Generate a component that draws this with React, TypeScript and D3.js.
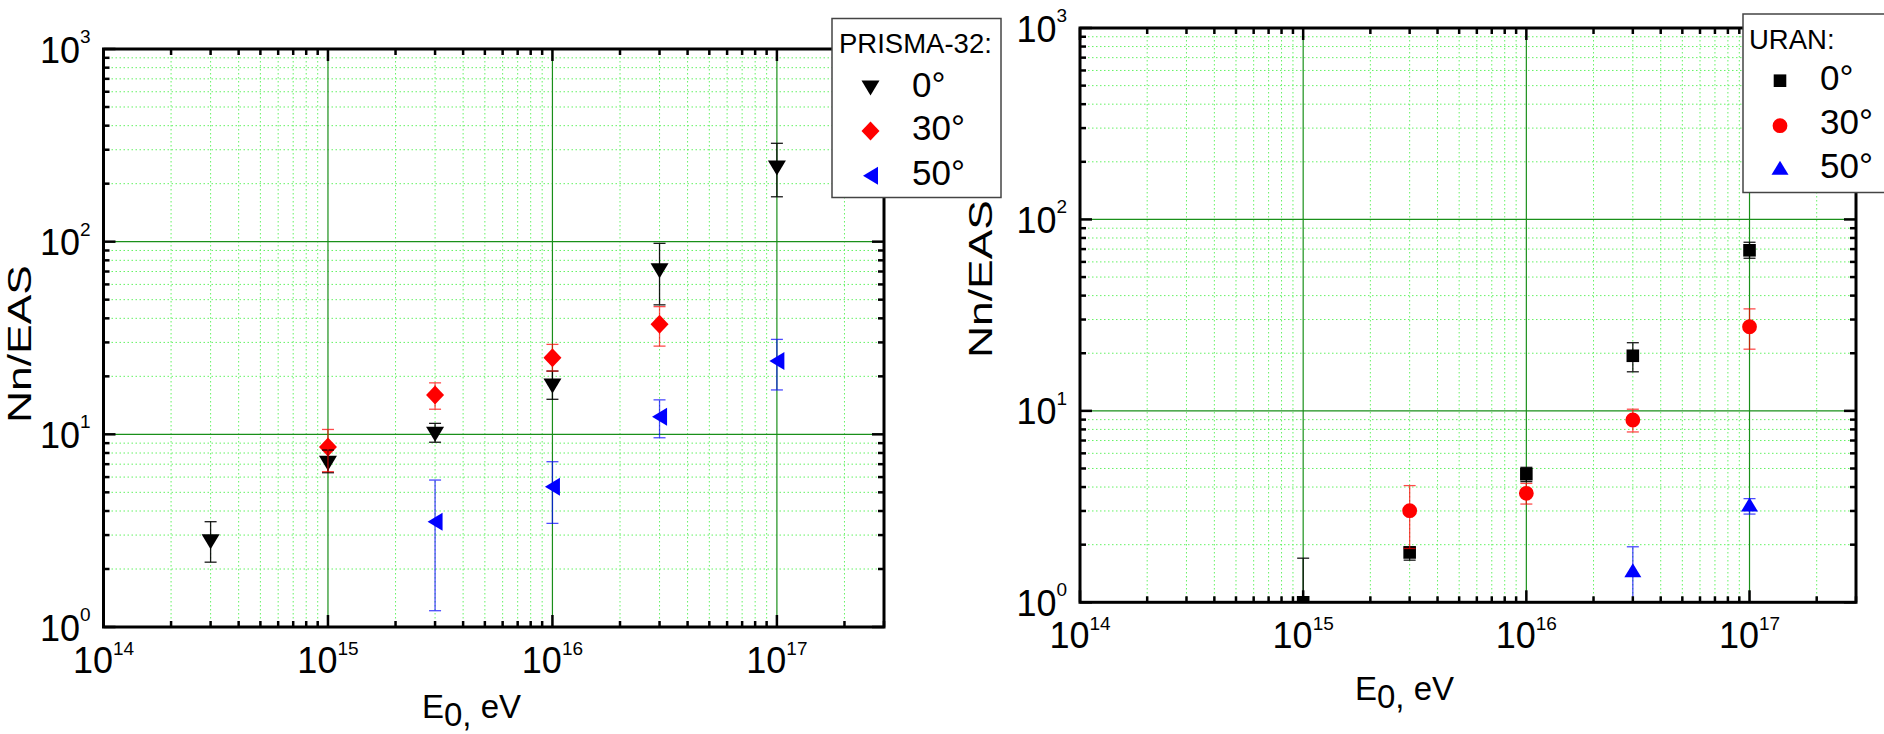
import React from "react";
import * as d3 from "d3";

// ---------- DATA ----------
const xTickExponents = [14, 15, 16, 17];
const yTickExponents = [0, 1, 2, 3];
const xDomain: [number, number] = [1e14, 3e17];
const yDomain: [number, number] = [1, 1000];

// PRISMA-32
const prisma0E = [3e14, 1e15, 3e15, 1e16, 3e16, 1e17];
const prisma0 = [2.77, 7.07, 10.0, 17.8, 70.6, 241];
const prisma0Lo = [2.17, 6.32, 9.1, 15.2, 47, 171];
const prisma0Hi = [3.52, 8.29, 11.4, 21.3, 98, 324];

const prisma30E = [1e15, 3e15, 1e16, 3e16];
const prisma30 = [8.6, 16.0, 25.0, 37.3];
const prisma30Lo = [6.4, 13.5, 21.3, 28.7];
const prisma30Hi = [10.6, 18.5, 29.3, 46];

const prisma50E = [3e15, 1e16, 3e16, 1e17];
const prisma50 = [3.52, 5.35, 12.35, 24.0];
const prisma50Lo = [1.215, 3.45, 9.6, 17.0];
const prisma50Hi = [5.79, 7.21, 15.1, 31.1];

// URAN
const uran0E = [1e15, 3e15, 1e16, 3e16, 1e17];
const uran0 = [1.0, 1.82, 4.67, 19.4, 69.0];
const uran0Lo = [0.6, 1.66, 4.27, 16.0, 62.7];
const uran0Hi = [1.7, 1.95, 5.07, 22.7, 76];

const uran30E = [3e15, 1e16, 3e16, 1e17];
const uran30 = [3.01, 3.71, 8.96, 27.5];
const uran30Lo = [1.91, 3.26, 7.76, 21.0];
const uran30Hi = [4.07, 4.18, 10.2, 34.1];

const uran50E = [3e16, 1e17];
const uran50 = [1.47, 3.24];
const uran50Lo = [0.8, 2.89];
const uran50Hi = [1.95, 3.48];

const seriesLabels = ["0°", "30°", "50°"];

// ---------- STYLE ----------
const FONT = "'Liberation Sans', Arial, Helvetica, sans-serif";
const BLACK = "#000000";
const RED = "#ff0000";
const BLUE = "#0000ff";

type Shape = "down" | "diamond" | "left" | "square" | "circle" | "up";

function shapePath(kind: Shape): string {
  switch (kind) {
    case "down":
      return "M-9,-7.5L9,-7.5L0,7.5Z";
    case "diamond":
      return "M0,-9.5L9,0L0,9.5L-9,0Z";
    case "left":
      return "M-7.5,0L7.5,-9L7.5,9Z";
    case "square":
      return "M-6.3,-6.3L6.3,-6.3L6.3,6.3L-6.3,6.3Z";
    case "up":
      return "M-8.5,7L8.5,7L0,-7Z";
    case "circle":
    default:
      return d3.symbol(d3.symbolCircle, Math.PI * 7.4 * 7.4)() || "";
  }
}

interface Series {
  color: string;
  shape: Shape;
  e: number[];
  v: number[];
  lo: number[];
  hi: number[];
}

interface PanelCfg {
  id: string;
  x0: number;
  x1: number;
  y0: number;
  y1: number;
  yTitle: { x: number; y: number; len: number };
  xTitle: { x: number; y: number };
  legend: {
    x: number;
    y: number;
    w: number;
    h: number;
    title: string;
    titleX: number;
    titleY: number;
    markerX: number;
    textX: number;
    rows: { my: number; ty: number }[];
  };
  series: Series[];
}

const panels: PanelCfg[] = [
  {
    id: "prisma",
    x0: 103.5,
    x1: 884,
    y0: 49,
    y1: 627,
    yTitle: { x: 31, y: 344, len: 158 },
    xTitle: { x: 422, y: 718 },
    legend: {
      x: 832,
      y: 18.5,
      w: 169,
      h: 179,
      title: "PRISMA-32:",
      titleX: 839,
      titleY: 53,
      markerX: 870.5,
      textX: 912,
      rows: [
        { my: 88, ty: 97 },
        { my: 131, ty: 140 },
        { my: 175.7, ty: 185 },
      ],
    },
    series: [
      { color: BLACK, shape: "down", e: prisma0E, v: prisma0, lo: prisma0Lo, hi: prisma0Hi },
      { color: RED, shape: "diamond", e: prisma30E, v: prisma30, lo: prisma30Lo, hi: prisma30Hi },
      { color: BLUE, shape: "left", e: prisma50E, v: prisma50, lo: prisma50Lo, hi: prisma50Hi },
    ],
  },
  {
    id: "uran",
    x0: 1080,
    x1: 1856,
    y0: 28,
    y1: 602.3,
    yTitle: { x: 991.5, y: 279, len: 158 },
    xTitle: { x: 1355, y: 700 },
    legend: {
      x: 1743,
      y: 14,
      w: 160,
      h: 178.5,
      title: "URAN:",
      titleX: 1749,
      titleY: 48.5,
      markerX: 1780,
      textX: 1820,
      rows: [
        { my: 80.7, ty: 90 },
        { my: 125.7, ty: 134.3 },
        { my: 167.7, ty: 178.3 },
      ],
    },
    series: [
      { color: BLACK, shape: "square", e: uran0E, v: uran0, lo: uran0Lo, hi: uran0Hi },
      { color: RED, shape: "circle", e: uran30E, v: uran30, lo: uran30Lo, hi: uran30Hi },
      { color: BLUE, shape: "up", e: uran50E, v: uran50, lo: uran50Lo, hi: uran50Hi },
    ],
  },
];

function isMajor(v: number) {
  const l = Math.log10(v);
  return Math.abs(l - Math.round(l)) < 1e-9;
}

function Panel({ cfg }: { cfg: PanelCfg }) {
  const x = d3.scaleLog().domain(xDomain).range([cfg.x0, cfg.x1]);
  const y = d3.scaleLog().domain(yDomain).range([cfg.y1, cfg.y0]);
  const xt = x.ticks();
  const yt = y.ticks();
  const clipId = `clip-${cfg.id}`;
  const L = cfg.legend;

  return (
    <g>
      <defs>
        <clipPath id={clipId}>
          <rect x={cfg.x0} y={cfg.y0} width={cfg.x1 - cfg.x0} height={cfg.y1 - cfg.y0} />
        </clipPath>
      </defs>

      {/* minor grid */}
      <g stroke="#3ff03f" strokeWidth={1} strokeDasharray="1.5 2.5" opacity={0.8}>
        {xt
          .filter((v) => !isMajor(v) && x(v) < cfg.x1 - 1)
          .map((v, i) => (
            <line key={`gx${i}`} x1={x(v)} x2={x(v)} y1={cfg.y0} y2={cfg.y1} />
          ))}
        {yt
          .filter((v) => !isMajor(v))
          .map((v, i) => (
            <line key={`gy${i}`} x1={cfg.x0} x2={cfg.x1} y1={y(v)} y2={y(v)} />
          ))}
      </g>
      {/* major grid */}
      <g stroke="#1a8f1a" strokeWidth={1.2}>
        {xt
          .filter((v) => isMajor(v) && x(v) > cfg.x0 + 1)
          .map((v, i) => (
            <line key={`Gx${i}`} x1={x(v)} x2={x(v)} y1={cfg.y0} y2={cfg.y1} />
          ))}
        {yt
          .filter((v) => isMajor(v) && y(v) > cfg.y0 + 1 && y(v) < cfg.y1 - 1)
          .map((v, i) => (
            <line key={`Gy${i}`} x1={cfg.x0} x2={cfg.x1} y1={y(v)} y2={y(v)} />
          ))}
      </g>

      {/* data */}
      <g clipPath={`url(#${clipId})`}>
        {cfg.series.map((s, si) => (
          <g key={`m${si}`} fill={s.color}>
            {s.e.map((e, i) => (
              <path key={i} d={shapePath(s.shape)} transform={`translate(${x(e)},${y(s.v[i])})`} />
            ))}
          </g>
        ))}
        {cfg.series.map((s, si) => (
          <g key={`e${si}`} stroke={s.color} strokeWidth={1.3} opacity={s.color === BLACK ? 0.9 : 0.7}>
            {s.e.map((e, i) => {
              const cx = x(e);
              const ylo = y(s.lo[i]);
              const yhi = y(s.hi[i]);
              return (
                <g key={i}>
                  <line x1={cx} x2={cx} y1={ylo} y2={yhi} />
                  <line x1={cx - 6} x2={cx + 6} y1={ylo} y2={ylo} />
                  <line x1={cx - 6} x2={cx + 6} y1={yhi} y2={yhi} />
                </g>
              );
            })}
          </g>
        ))}
      </g>

      {/* ticks */}
      <g stroke="#000" strokeWidth={2.5}>
        {xt.map((v, i) => {
          const len = isMajor(v) ? 12 : 6;
          const px = x(v);
          return (
            <g key={`tx${i}`}>
              <line x1={px} x2={px} y1={cfg.y1} y2={cfg.y1 - len} />
              <line x1={px} x2={px} y1={cfg.y0} y2={cfg.y0 + len} />
            </g>
          );
        })}
        {yt.map((v, i) => {
          const len = isMajor(v) ? 12 : 6;
          const py = y(v);
          return (
            <g key={`ty${i}`}>
              <line x1={cfg.x0} x2={cfg.x0 + len} y1={py} y2={py} />
              <line x1={cfg.x1} x2={cfg.x1 - len} y1={py} y2={py} />
            </g>
          );
        })}
      </g>
      {/* frame */}
      <rect
        x={cfg.x0}
        y={cfg.y0}
        width={cfg.x1 - cfg.x0}
        height={cfg.y1 - cfg.y0}
        fill="none"
        stroke="#000"
        strokeWidth={3}
      />

      {/* tick labels */}
      <g fontFamily={FONT} fill="#000">
        {xTickExponents.map((ex) => (
          <text key={`xl${ex}`} x={x(Math.pow(10, ex))} y={cfg.y1 + 46} fontSize={36} textAnchor="middle">
            <tspan>10</tspan>
            <tspan fontSize={19} dy={-18}>
              {ex}
            </tspan>
          </text>
        ))}
        {yTickExponents.map((ex) => (
          <text key={`yl${ex}`} x={cfg.x0 - 13} y={y(Math.pow(10, ex)) + 13.5} fontSize={36} textAnchor="end">
            <tspan>10</tspan>
            <tspan fontSize={19} dy={-19.5}>
              {ex}
            </tspan>
          </text>
        ))}
      </g>

      {/* axis titles */}
      <g fontFamily={FONT} fill="#000">
        <text
          transform={`translate(${cfg.yTitle.x},${cfg.yTitle.y}) rotate(-90)`}
          fontSize={33}
          textAnchor="middle"
          textLength={cfg.yTitle.len}
          lengthAdjust="spacingAndGlyphs"
        >
          Nn/EAS
        </text>
        <text x={cfg.xTitle.x} y={cfg.xTitle.y} fontSize={33}>
          <tspan>E</tspan>
          <tspan dy={8}>0,</tspan>
          <tspan dy={-8}> eV</tspan>
        </text>
      </g>

      {/* legend */}
      <g>
        <rect x={L.x} y={L.y} width={L.w} height={L.h} fill="#fff" stroke="#444" strokeWidth={1.5} />
        <text x={L.titleX} y={L.titleY} fontFamily={FONT} fontSize={27.5} fill="#000">
          {L.title}
        </text>
        {cfg.series.map((s, i) => (
          <g key={`lg${i}`}>
            <path d={shapePath(s.shape)} fill={s.color} transform={`translate(${L.markerX},${L.rows[i].my})`} />
            <text x={L.textX} y={L.rows[i].ty} fontFamily={FONT} fontSize={35} fill="#000">
              {seriesLabels[i]}
            </text>
          </g>
        ))}
      </g>
    </g>
  );
}

export default function App() {
  return (
    <svg
      width={1884}
      height={734}
      viewBox="0 0 1884 734"
      style={{ position: "absolute", left: 0, top: 0, background: "#fff" }}
    >
      <rect x={0} y={0} width={1884} height={734} fill="#fff" />
      {panels.map((p) => (
        <Panel key={p.id} cfg={p} />
      ))}
    </svg>
  );
}
